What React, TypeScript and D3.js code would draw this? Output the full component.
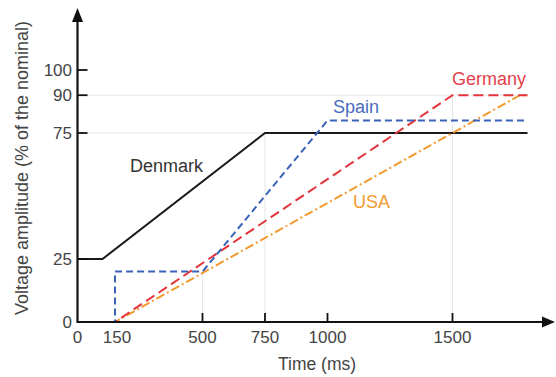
import React from "react";
import * as d3 from "d3";

const timeTicks = [0, 150, 500, 750, 1000, 1500];
const voltTicks = [0, 25, 75, 90, 100];
const xTickMarks = [500, 750, 1000, 1500];
const yTickMarks = [25, 75, 90, 100];

const denmarkT = [0, 100, 750, 1800];
const denmarkV = [25, 25, 75, 75];
const spainT = [0, 150, 150, 500, 1000, 1800];
const spainV = [0, 0, 20, 20, 80, 80];
const germanyT = [0, 150, 1500, 1800];
const germanyV = [0, 0, 90, 90];
const usaT = [0, 150, 1770, 1800];
const usaV = [0, 0, 90, 90];

const W = 556;
const H = 377;
const x = d3.scaleLinear().domain([0, 1500]).range([77.5, 452.5]);
const y = d3.scaleLinear().domain([0, 100]).range([322, 70]);

const FONT = "'Liberation Sans', Arial, sans-serif";

function pts(t: number[], v: number[]) {
  return t.map((d, i) => [d, v[i]] as [number, number]);
}

const line = d3
  .line<[number, number]>()
  .x((d) => x(d[0]))
  .y((d) => y(d[1]));

export default function App() {
  const x0 = x(0);
  const y0 = y(0);
  const grid = "#e6e6e6";
  return (
    <svg
      width={W}
      height={H}
      style={{ position: "absolute", left: 0, top: 0, background: "#fff" }}
      fontFamily={FONT}
    >
      {/* faint grid */}
      <line x1={x0} x2={x(1800)} y1={y(90)} y2={y(90)} stroke={grid} strokeWidth={1} />
      <line x1={x0} x2={x(1800)} y1={y(75)} y2={y(75)} stroke={grid} strokeWidth={1} />
      <line x1={x(500)} x2={x(500)} y1={y0} y2={y(20)} stroke={grid} strokeWidth={1} />
      <line x1={x(750)} x2={x(750)} y1={y0} y2={y(75)} stroke={grid} strokeWidth={1} />
      <line x1={x(1500)} x2={x(1500)} y1={y0} y2={y(90)} stroke={grid} strokeWidth={1} />

      {/* series */}
      <path d={line(pts(denmarkT, denmarkV)) || ""} fill="none" stroke="#1a1a1a" strokeWidth={2} />
      <path
        d={line(pts(usaT, usaV)) || ""}
        fill="none"
        stroke="#f29a2e"
        strokeWidth={2}
        strokeDasharray="9,3,2,3"
      />
      <path
        d={line(pts(germanyT, germanyV)) || ""}
        fill="none"
        stroke="#e3343c"
        strokeWidth={2}
        strokeDasharray="10,5"
      />
      <path
        d={line(pts(spainT, spainV)) || ""}
        fill="none"
        stroke="#3a62b8"
        strokeWidth={2}
        strokeDasharray="7,4"
      />

      {/* axes */}
      <line x1={x0} x2={544} y1={y0} y2={y0} stroke="#111" strokeWidth={2.2} />
      <path d={`M555,${y0} L542,${y0 - 5.5} L542,${y0 + 5.5} Z`} fill="#111" />
      <line x1={x0} x2={x0} y1={y0 + 1} y2={20} stroke="#111" strokeWidth={2.2} />
      <path d={`M${x0},8 L${x0 - 5.5},22 L${x0 + 5.5},22 Z`} fill="#111" />

      {xTickMarks.map((t) => (
        <line key={"xt" + t} x1={x(t)} x2={x(t)} y1={y0} y2={y0 - 9} stroke="#111" strokeWidth={1.8} />
      ))}
      {yTickMarks.map((v) => (
        <line key={"yt" + v} x1={x0} x2={x0 + 10} y1={y(v)} y2={y(v)} stroke="#111" strokeWidth={1.8} />
      ))}

      {timeTicks.map((t) => (
        <text key={"xl" + t} x={x(t) + (t === 150 ? 2 : 0)} y={343} textAnchor="middle" fontSize={17} fill="#444">
          {t}
        </text>
      ))}
      {voltTicks.map((v) => (
        <text key={"yl" + v} x={72} y={y(v) + 6} textAnchor="end" fontSize={17} fill="#444">
          {v}
        </text>
      ))}

      <text x={317} y={370} textAnchor="middle" fontSize={17.5} fill="#444">
        Time (ms)
      </text>
      <text
        transform="translate(28,168) rotate(-90)"
        textAnchor="middle"
        fontSize={18}
        fill="#444"
      >
        Voltage amplitude (% of the nominal)
      </text>

      <text x={130} y={172} fontSize={18} fill="#333">Denmark</text>
      <text x={333} y={113} fontSize={18} fill="#4a6cc0">Spain</text>
      <text x={452} y={85} fontSize={18} fill="#e2404a">Germany</text>
      <text x={353} y={208} fontSize={18} fill="#f29a2e">USA</text>
    </svg>
  );
}
